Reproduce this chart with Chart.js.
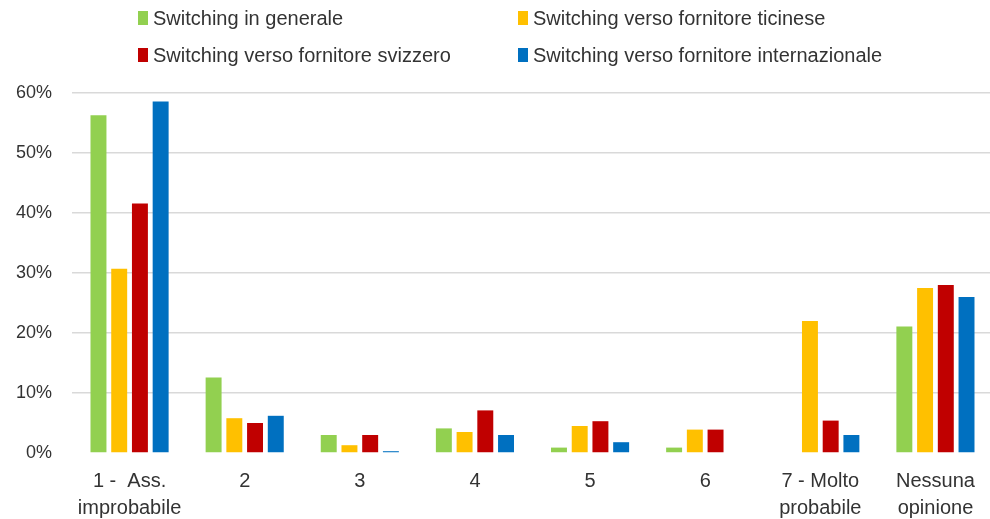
<!DOCTYPE html>
<html>
<head>
<meta charset="utf-8">
<script src="https://cdn.jsdelivr.net/npm/chart.js@4.4.1/dist/chart.umd.min.js"></script>
<style>
  html, body { margin: 0; padding: 0; background: #fff; overflow: hidden; }
  #wrap { position: relative; width: 993px; height: 519px; }
  #legend { position: absolute; left: 0; top: 0; width: 990px; height: 80px; font-family: "Liberation Sans", sans-serif; font-size: 20px; color: #333; }
  .item { position: absolute; display: flex; align-items: center; white-space: nowrap; }
  .box { width: 10px; height: 14px; margin-right: 5px; }
</style>
</head>
<body>
<div id="wrap">
  <canvas id="chart" width="993" height="519"></canvas>
  <div id="legend"></div>
</div>
<script>
// Answers on the 1–7 likelihood scale plus "no opinion", share of respondents (%)
const categories = [["1 -  Ass.", "improbabile"], "2", "3", "4", "5", "6", ["7 - Molto", "probabile"], ["Nessuna", "opinione"]];
const seriesNames = [
  "Switching in generale",
  "Switching verso fornitore ticinese",
  "Switching verso fornitore svizzero",
  "Switching verso fornitore internazionale"
];
const generale       = [56.3, 12.6, 3.0, 4.1, 0.9, 0.9, 0.0, 21.1];
const ticinese       = [30.7, 5.8, 1.3, 3.5, 4.5, 3.9, 22.0, 27.5];
const svizzero       = [41.6, 5.0, 3.0, 7.1, 5.3, 3.9, 5.4, 28.0];
const internazionale = [58.6, 6.2, 0.3, 3.0, 1.8, 0.0, 3.0, 26.0];
const yTicks = [0, 10, 20, 30, 40, 50, 60];

const colors = ["#92d050", "#ffc000", "#c00000", "#0070c0"];
const values = [generale, ticinese, svizzero, internazionale];

const FONT = "'Liberation Sans', sans-serif";

// legend laid out in two rows of two
const legendPos = [[138, 18], [518, 18], [138, 55], [518, 55]];
const legend = document.getElementById("legend");
seriesNames.forEach((name, i) => {
  const el = document.createElement("div");
  el.className = "item";
  el.style.left = legendPos[i][0] + "px";
  el.style.top = (legendPos[i][1] - 12) + "px";
  el.style.height = "24px";
  const box = document.createElement("span");
  box.className = "box";
  box.style.background = colors[i];
  const txt = document.createElement("span");
  txt.textContent = name;
  el.appendChild(box);
  el.appendChild(txt);
  legend.appendChild(el);
});

new Chart(document.getElementById("chart"), {
  type: "bar",
  data: {
    labels: categories,
    datasets: seriesNames.map((name, i) => ({
      label: name,
      data: values[i],
      backgroundColor: colors[i],
      categoryPercentage: 0.72,
      barPercentage: 0.77
    }))
  },
  options: {
    responsive: false,
    animation: false,
    layout: { padding: { top: 93, right: 0, bottom: 0, left: 0 } },
    plugins: { legend: { display: false }, tooltip: { enabled: false } },
    scales: {
      x: {
        afterFit: (scale) => { scale.height = 66; },
        grid: { display: false, drawTicks: false },
        border: { display: false },
        ticks: {
          padding: 15,
          color: "#333",
          font: { family: FONT, size: 20, lineHeight: 1.35 },
          maxRotation: 0,
          autoSkip: false
        }
      },
      y: {
        min: 0,
        max: 60,
        afterFit: (scale) => { scale.width = 72; },
        afterBuildTicks: (scale) => { scale.ticks = yTicks.map(v => ({ value: v })); },
        grid: {
          // no line along the baseline, light gray above it
          color: (ctx) => (ctx.tick && ctx.tick.value === 0) ? "rgba(0,0,0,0)" : "#d9d9d9",
          lineWidth: 1.5,
          drawTicks: false
        },
        border: { display: false },
        ticks: {
          padding: 20,
          color: "#333",
          font: { family: FONT, size: 18 },
          callback: (v) => v + "%"
        }
      }
    }
  }
});
</script>
</body>
</html>
